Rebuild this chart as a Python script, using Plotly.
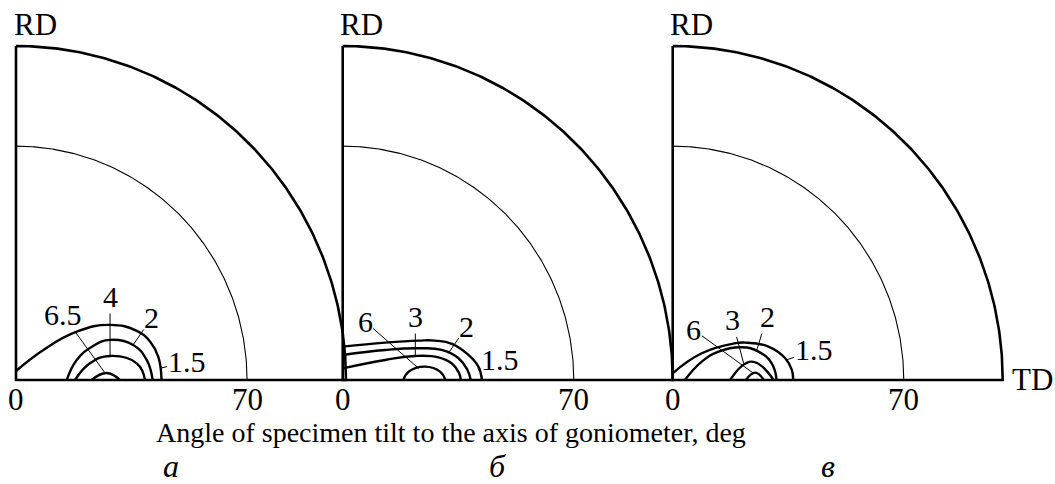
import numpy as np
import plotly.graph_objects as go

# ---------------- data ----------------
PANEL_LETTERS = ["а", "б", "в"]
TICK_DEGREES = [0, 70]
TICK_LABELS = ["0", "70"]
OUTER_DEG = 90
GRID_DEG = 70
AXIS_TITLE = "Angle of specimen tilt to the axis of goniometer, deg"
POLE_RD = "RD"
POLE_TD = "TD"

# contour levels of each pole figure (outer -> inner)
LEVELS_A = ["1.5", "2", "4", "6.5"]
LEVELS_B = ["1.5", "2", "3", "6"]
LEVELS_C = ["1.5", "2", "3", "6"]

# contour outlines in stereographic coordinates (x along TD, y along RD, outer circle = 1)
CONT_A_X = [
    [0, 0.083, 0.184, 0.285, 0.366, 0.406, 0.431, 0.441],
    [0.154, 0.184, 0.234, 0.285, 0.355, 0.396, 0.414],
    [0.179, 0.224, 0.285, 0.366, 0.391],
    [0.229, 0.275, 0.315],
]
CONT_A_Y = [
    [0.027, 0.09, 0.145, 0.165, 0.147, 0.115, 0.07, 0],
    [0, 0.06, 0.102, 0.12, 0.105, 0.06, 0],
    [0, 0.05, 0.072, 0.05, 0],
    [0, 0.021, 0],
]
CONT_B_X = [
    [0, 0.129, 0.23, 0.28, 0.331, 0.381, 0.411, 0.422],
    [0, 0.129, 0.23, 0.30, 0.351, 0.378, 0.388],
    [0, 0.129, 0.22, 0.29, 0.33, 0.352, 0.358],
    [0.184, 0.2, 0.25, 0.295, 0.311],
]
CONT_B_Y = [
    [0.10, 0.112, 0.118, 0.118, 0.108, 0.075, 0.04, 0],
    [0.075, 0.09, 0.095, 0.09, 0.065, 0.03, 0],
    [0.035, 0.06, 0.072, 0.068, 0.05, 0.022, 0],
    [0, 0.025, 0.04, 0.025, 0],
]
CONT_C_X = [
    [0, 0.088, 0.189, 0.219, 0.29, 0.341, 0.361, 0.365],
    [0.037, 0.088, 0.139, 0.209, 0.26, 0.30, 0.315],
    [0.174, 0.239, 0.306],
    [0.222, 0.25, 0.276],
]
CONT_C_Y = [
    [0.02, 0.08, 0.11, 0.112, 0.1, 0.065, 0.03, 0],
    [0, 0.055, 0.085, 0.098, 0.085, 0.05, 0],
    [0, 0.055, 0],
    [0, 0.022, 0],
]

# ---------------- layout constants ----------------
PANEL_OFFSETS = [0.0, 0.99, 1.99]
# label text position and leader target for each level, per panel
LABEL_POS = [
    [(0.517, 0.055), (0.411, 0.186), (0.285, 0.25), (0.142, 0.195)],
    [(0.477, 0.06), (0.376, 0.16), (0.22, 0.19), (0.068, 0.175)],
    [(0.427, 0.09), (0.286, 0.19), (0.18, 0.18), (0.064, 0.15)],
]
LEADER_TO = [
    [(0.437, 0.035), (0.355, 0.105), (0.285, 0.072), (0.27, 0.021)],
    [(0.41, 0.03), (0.32, 0.08), (0.22, 0.075), (0.23, 0.035)],
    [(0.345, 0.06), (0.255, 0.09), (0.215, 0.05), (0.245, 0.02)],
]

FONT = "Liberation Serif"
W, H = 1055, 484
SX, SY = 330.0, 334.0          # px per unit
ORIGIN_PX = (16.0, 380.0)


def proj(deg):
    return np.tan(np.radians(np.asarray(deg, dtype=float)) / 2.0) / np.tan(np.radians(OUTER_DEG) / 2.0)


fig = go.Figure()
theta = np.linspace(0, np.pi / 2, 200)
r_out = float(proj(OUTER_DEG))
r_grid = float(proj(GRID_DEG))

panels = [
    (CONT_A_X, CONT_A_Y, LEVELS_A),
    (CONT_B_X, CONT_B_Y, LEVELS_B),
    (CONT_C_X, CONT_C_Y, LEVELS_C),
]

annotations = []
for p, (cx, cy, levels) in enumerate(panels):
    off = PANEL_OFFSETS[p]
    # inner grid circle
    fig.add_trace(go.Scatter(x=off + r_grid * np.cos(theta), y=r_grid * np.sin(theta),
                             mode="lines", line=dict(color="black", width=1.1),
                             hoverinfo="skip", showlegend=False))
    # frame: RD axis, TD axis and outer arc
    fx = np.concatenate([[off, off], off + r_out * np.cos(theta)])
    fy = np.concatenate([[r_out, 0], r_out * np.sin(theta)])
    fig.add_trace(go.Scatter(x=fx, y=fy, mode="lines",
                             line=dict(color="black", width=2.6),
                             hoverinfo="skip", showlegend=False))
    # contours
    for k in range(len(levels)):
        fig.add_trace(go.Scatter(x=[off + v for v in cx[k]], y=cy[k], mode="lines",
                                 line=dict(color="black", width=2.4, shape="spline", smoothing=1.3),
                                 name=levels[k], hoverinfo="skip", showlegend=False))
        tx, ty = LABEL_POS[p][k]
        lx, ly = LEADER_TO[p][k]
        annotations.append(dict(x=off + lx, y=ly, ax=off + tx, ay=ty, axref="x", ayref="y",
                                xref="x", yref="y", text=levels[k], showarrow=True,
                                arrowhead=0, arrowwidth=1, arrowcolor="black", standoff=0,
                                borderpad=0,
                                font=dict(family=FONT, size=30, color="black")))
    # tick labels
    for d, lab in zip(TICK_DEGREES, TICK_LABELS):
        annotations.append(dict(x=off + float(proj(d)), y=-0.057, xref="x", yref="y",
                                text=lab, showarrow=False, xanchor="center", yanchor="middle",
                                font=dict(family=FONT, size=31, color="black")))
    # RD label
    annotations.append(dict(x=off + 0.058, y=1.063, xref="x", yref="y", text=POLE_RD,
                            showarrow=False, xanchor="center", yanchor="middle",
                            font=dict(family=FONT, size=31, color="black")))
    # panel letter
    annotations.append(dict(x=off + 0.47, y=-0.257, xref="x", yref="y", text=PANEL_LETTERS[p],
                            showarrow=False, xanchor="center", yanchor="middle",
                            font=dict(family=FONT, size=32, color="black", style="italic")))

# TD label on the last panel
annotations.append(dict(x=PANEL_OFFSETS[2] + 1.09, y=0.003, xref="x", yref="y", text=POLE_TD,
                        showarrow=False, xanchor="center", yanchor="middle",
                        font=dict(family=FONT, size=31, color="black")))
# caption
annotations.append(dict(x=1.318, y=-0.156, xref="x", yref="y", text=AXIS_TITLE,
                        showarrow=False, xanchor="center", yanchor="middle",
                        font=dict(family=FONT, size=28, color="black")))

x0 = -ORIGIN_PX[0] / SX
x1 = (W - ORIGIN_PX[0]) / SX
y0 = -(H - ORIGIN_PX[1]) / SY
y1 = ORIGIN_PX[1] / SY

fig.update_layout(
    width=W, height=H,
    margin=dict(l=0, r=0, t=0, b=0),
    paper_bgcolor="white", plot_bgcolor="white",
    xaxis=dict(range=[x0, x1], visible=False, fixedrange=True),
    yaxis=dict(range=[y0, y1], visible=False, fixedrange=True),
    annotations=annotations,
    showlegend=False,
)

fig.write_html("out.html", config={"displayModeBar": False},
               post_script="document.body.style.margin='0px';document.body.style.overflow='hidden';")
